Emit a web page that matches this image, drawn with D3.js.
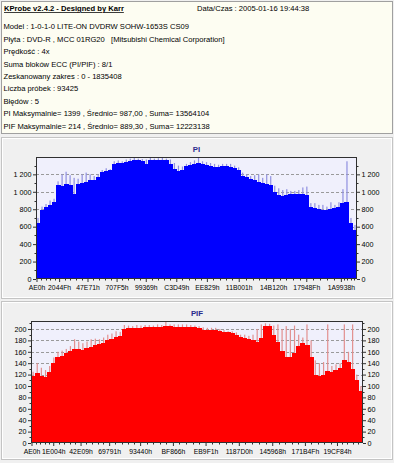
<!DOCTYPE html>
<html><head><meta charset="utf-8">
<script src="https://cdn.jsdelivr.net/npm/d3@7"></script>
<style>
html,body{margin:0;padding:0;background:#f0f0f0;}
svg{display:block;font-family:"Liberation Sans",Arial,sans-serif;}
</style>
</head><body>
<svg id="c" width="394" height="463"></svg>
<script>
// ---------- data ----------
const infoTitle = "KProbe v2.4.2 - Designed by Karr";
const infoDate = "Data/Czas : 2005-01-16 19:44:38";
const infoLines = [
  "Model : 1-0-1-0 LITE-ON DVDRW SOHW-1653S CS09",
  "Płyta : DVD-R , MCC 01RG20   [Mitsubishi Chemical Corporation]",
  "Prędkość : 4x",
  "Suma bloków ECC (PI/PIF) : 8/1",
  "Zeskanowany zakres : 0 - 1835408",
  "Liczba próbek : 93425",
  "Błędów : 5",
  "PI Maksymalnie= 1399 , Średnio= 987,00 , Suma= 13564104",
  "PIF Maksymalnie= 214 , Średnio= 889,30 , Suma= 12223138"
];
const maxLBA = 1835408;

const piBase = [640,790,820,850,880,1080,1070,1090,1080,980,1090,1100,1110,1130,1140,1170,1230,1240,1250,1320,
  1330,1330,1340,1350,1360,1360,1355,1320,1370,1370,1365,1370,1360,1320,1260,1240,1250,1300,1310,1320,
  1330,1320,1310,1300,1290,1290,1300,1300,1290,1270,1250,1180,1170,1150,1130,1110,1100,1090,1080,1000,
  960,950,960,970,980,975,970,960,830,810,800,790,790,800,810,830,870,880,640,560];
const piPeak = [700,830,860,900,920,1120,1200,1230,1190,1160,1150,1200,1220,1200,1180,1200,1250,1270,1260,1350,
  1360,1350,1370,1380,1390,1380,1375,1370,1390,1380,1385,1390,1380,1370,1330,1300,1290,1320,1340,1360,
  1399,1350,1340,1330,1320,1310,1320,1320,1320,1300,1280,1220,1200,1180,1190,1200,1160,1200,1180,1070,
  1040,1020,1030,1010,1010,1020,1050,1060,870,870,850,850,830,880,850,880,1030,1350,700,620];

const pifBase = [117,122,118,116,125,140,150,153,158,162,165,165,164,166,168,172,174,176,180,183,
  186,188,200,201,201,202,202,203,203,203,204,204,205,205,204,204,204,203,203,204,
  202,199,198,198,199,197,195,194,193,190,186,184,182,180,178,185,205,205,190,178,
  162,150,150,158,170,175,172,150,120,118,120,126,125,128,132,145,142,130,110,92];
const pifPeak = [125,140,132,128,135,150,160,162,165,170,182,178,175,178,182,183,182,185,190,192,
  196,195,207,206,205,207,206,207,207,206,208,207,214,208,208,208,208,208,207,206,
  205,203,202,202,202,200,198,196,196,194,190,190,188,190,200,208,210,209,206,208,
  200,205,200,206,190,185,208,180,145,140,142,208,135,138,140,208,160,208,120,100];

const piXLabels = ["AE0h","2044Fh","47E71h","707F5h","99369h","C3D49h","EE829h","11B001h","14B120h","17948Fh","1A9938h"];
const pifXLabels = ["AE0h","1E004h","42E09h","69791h","93440h","BF866h","EB9F1h","1187D0h","145968h","171B4Fh","19CF84h"];
const piYTicks = [0,200,400,600,800,1000,1200];
const pifYTicks = [0,20,40,60,80,100,120,140,160,180,200];
const piMax = 1399, pifMax = 214;

// ---------- drawing ----------
const svg = d3.select("#c");
const fmt = v => d3.format(",")(v).replace(/,/g, " ");

// info panel
svg.append("rect").attr("x",1.5).attr("y",1.5).attr("width",391).attr("height",132)
  .attr("fill","#fdfdf2").attr("stroke","#a0a0a0");
svg.append("text").attr("x",4).attr("y",11).attr("font-size",7.6).attr("font-weight","bold")
  .attr("text-decoration","underline").attr("fill","#000").text(infoTitle);
svg.append("text").attr("x",197).attr("y",11).attr("font-size",7.6).attr("fill","#000").text(infoDate);
svg.selectAll("text.info").data(infoLines).join("text").attr("class","info")
  .attr("x",3.5).attr("y",(d,i)=>29.3 + i*12.4).attr("font-size",7.6).attr("fill","#000")
  .style("white-space","pre").text(d=>d);

function drawChart(c) {
  const x = d3.scaleLinear().domain([0, maxLBA]).range([c.left, c.right]);
  const y = d3.scaleLinear().domain([0, c.ymax]).range([c.bottom, c.top]);
  const g = svg.append("g");
  // panel
  g.append("rect").attr("x",c.panel[0]+0.5).attr("y",c.panel[1]+0.5)
    .attr("width",c.panel[2]).attr("height",c.panel[3]).attr("fill","none").attr("stroke","#c4c4c4");
  g.append("rect").attr("x",c.panel[0]+1.5).attr("y",c.panel[1]+1.5)
    .attr("width",c.panel[2]-2).attr("height",c.panel[3]-2).attr("fill","none").attr("stroke","#ffffff");
  // title
  g.append("text").attr("x",(c.left+c.right)/2).attr("y",c.titleY).attr("text-anchor","middle")
    .attr("font-size",7.8).attr("font-weight","bold").attr("fill","#2b2b8c").text(c.title);
  // plot background
  g.append("rect").attr("x",c.left).attr("y",c.top).attr("width",c.right-c.left).attr("height",c.bottom-c.top)
    .attr("fill","#f0f0fc");
  // grid
  g.selectAll("line.grid").data(c.yTicks.filter(v=>v>0)).join("line").attr("class","grid")
    .attr("x1",c.left).attr("x2",c.right)
    .attr("y1",d=>Math.round(y(d))+0.5).attr("y2",d=>Math.round(y(d))+0.5)
    .attr("stroke","#9a9a9a").attr("stroke-dasharray","3,2");
  // bars
  const n = c.base.length, step = maxLBA / n;
  g.selectAll("rect.peak").data(c.peak).join("rect").attr("class","peak")
    .attr("x",(d,i)=>x(i*step + step/2) - 0.6).attr("width",1.2)
    .attr("y",d=>y(d)).attr("height",d=>c.bottom - y(d)).attr("fill",c.peakColor);
  g.selectAll("rect.base").data(c.base).join("rect").attr("class","base")
    .attr("x",(d,i)=>Math.floor(x(i*step)))
    .attr("width",(d,i)=>Math.ceil(x((i+1)*step)) - Math.floor(x(i*step)))
    .attr("y",d=>y(d)).attr("height",d=>c.bottom - y(d)).attr("fill",c.color)
    .attr("shape-rendering","crispEdges");
  // frame
  g.append("rect").attr("x",c.left+0.5).attr("y",c.top+0.5).attr("width",c.right-c.left-1)
    .attr("height",c.bottom-c.top-1).attr("fill","none").attr("stroke","#303030");
  // axes
  const styleAxis = (a, fs) => {
    a.select(".domain").remove();
    a.selectAll("line").attr("stroke","#303030");
    a.selectAll("text").attr("font-size",fs).attr("fill","#000").attr("font-family","Liberation Sans, Arial, sans-serif");
  };
  g.append("g").attr("transform",`translate(${c.left},0)`)
    .call(d3.axisLeft(y).tickValues(c.yTicks).tickSize(3).tickPadding(1.5).tickFormat(fmt)).call(styleAxis, 7.2);
  g.append("g").attr("transform",`translate(${c.right},0)`)
    .call(d3.axisRight(y).tickValues(c.yTicks).tickSize(3).tickPadding(1.5).tickFormat(fmt)).call(styleAxis, 7.2);
  const xVals = c.xLabels.map(s => parseInt(s.slice(0,-1),16));
  g.append("g").attr("transform",`translate(0,${c.bottom})`)
    .call(d3.axisBottom(x).tickValues(xVals).tickSize(3).tickPadding(3).tickFormat((d,i)=>c.xLabels[i])).call(styleAxis, 6.8);
  // minor x ticks
  const minor = [];
  const ends = xVals.concat([maxLBA]);
  for (let k=0;k<ends.length-1;k++){
    for (let m=1;m<5;m++) minor.push(ends[k] + (ends[k+1]-ends[k])*m/5);
  }
  g.selectAll("line.mx").data(minor).join("line").attr("class","mx")
    .attr("x1",d=>Math.round(x(d))+0.5).attr("x2",d=>Math.round(x(d))+0.5)
    .attr("y1",c.bottom).attr("y2",c.bottom+1.5).attr("stroke","#303030");
  // minor y ticks
  const ym = [];
  for (let k=0;k<c.yTicks.length;k++){
    const b = c.yTicks[k] + (c.yTicks[1]-c.yTicks[0])/2;
    if (b < c.ymax) ym.push(b);
  }
  [c.left, c.right].forEach((px, side) => {
    g.selectAll("line.my"+side).data(ym).join("line").attr("class","my"+side)
      .attr("x1", px).attr("x2", side ? px+1.5 : px-1.5)
      .attr("y1",d=>Math.round(y(d))+0.5).attr("y2",d=>Math.round(y(d))+0.5).attr("stroke","#303030");
  });
}

drawChart({panel:[1,137,391,161], title:"PI", titleY:151.5, left:36, right:357, top:157, bottom:279,
  ymax:piMax, base:piBase, peak:piPeak, color:"#0000ff", peakColor:"#9090e0",
  xLabels:piXLabels, yTicks:piYTicks});
drawChart({panel:[1,301,391,158], title:"PIF", titleY:315.5, left:31, right:363, top:321, bottom:443,
  ymax:pifMax, base:pifBase, peak:pifPeak, color:"#ff0000", peakColor:"#e29090",
  xLabels:pifXLabels, yTicks:pifYTicks});
</script>
</body></html>
